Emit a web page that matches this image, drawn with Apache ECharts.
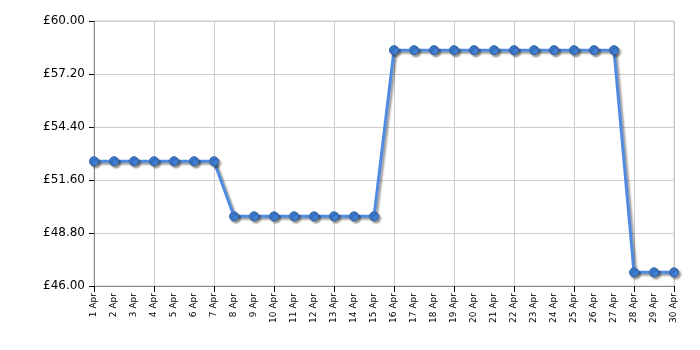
<!DOCTYPE html>
<html><head><meta charset="utf-8">
<script src="https://cdn.jsdelivr.net/npm/echarts@6/dist/echarts.min.js"></script>
<style>html,body{margin:0;padding:0;background:#fff}#c{width:700px;height:350px}</style>
</head><body><div id="c"></div>
<script>
const categories = ['1 Apr','2 Apr','3 Apr','4 Apr','5 Apr','6 Apr','7 Apr','8 Apr','9 Apr','10 Apr','11 Apr','12 Apr','13 Apr','14 Apr','15 Apr','16 Apr','17 Apr','18 Apr','19 Apr','20 Apr','21 Apr','22 Apr','23 Apr','24 Apr','25 Apr','26 Apr','27 Apr','28 Apr','29 Apr','30 Apr'];
const prices = [52.59,52.59,52.59,52.59,52.59,52.59,52.59,49.68,49.68,49.68,49.68,49.68,49.68,49.68,49.68,58.46,58.46,58.46,58.46,58.46,58.46,58.46,58.46,58.46,58.46,58.46,58.46,46.72,46.72,46.72];
const yMin = 46.0, yMax = 60.0, yStep = 2.8;

const chart = echarts.init(document.getElementById('c'));
chart.setOption({
  animation: false,
  grid: {left: 94, right: 26, top: 21, bottom: 64, show: true, borderColor: '#cccccc', borderWidth: 1},
  xAxis: {
    type: 'category', data: categories, boundaryGap: false,
    axisLine: {lineStyle: {color: '#888888', width: 1}},
    axisTick: {interval: 2, length: 6, lineStyle: {color: '#000'}},
    splitLine: {show: true, interval: 2, lineStyle: {color: '#cccccc', width: 1}},
    axisLabel: {interval: 0, rotate: 90, margin: 7, fontFamily: 'DejaVu Sans', fontSize: 9, color: '#000'}
  },
  yAxis: {
    type: 'value', min: yMin, max: yMax, interval: yStep,
    axisLine: {show: true, lineStyle: {color: '#888888', width: 1}},
    axisTick: {show: true, length: 5, lineStyle: {color: '#000'}},
    splitLine: {lineStyle: {color: '#cccccc', width: 1}},
    axisLabel: {margin: 9, fontFamily: 'DejaVu Sans', fontSize: 12, color: '#000',
      formatter: v => '£' + v.toFixed(2)}
  },
  series: [{
    type: 'line', data: prices, symbol: 'circle', symbolSize: 9,
    lineStyle: {color: '#4f8be0', width: 3, shadowColor: 'rgba(0,0,0,0.4)', shadowBlur: 2, shadowOffsetX: 2, shadowOffsetY: 2},
    itemStyle: {color: '#3f7fd8', borderColor: '#34619f', borderWidth: 1, shadowColor: 'rgba(0,0,0,0.4)', shadowBlur: 2, shadowOffsetX: 2, shadowOffsetY: 2}
  }]
});
</script></body></html>
